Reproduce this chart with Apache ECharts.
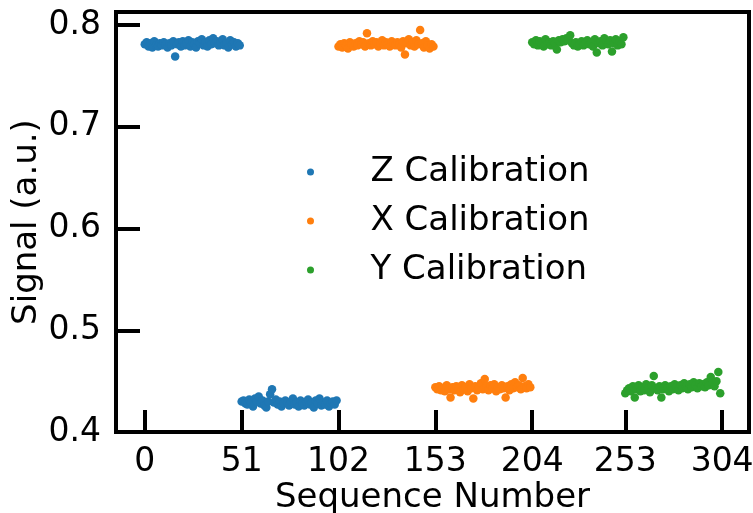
<!DOCTYPE html>
<html>
<head>
<meta charset="utf-8">
<script src="https://cdn.jsdelivr.net/npm/echarts@6/dist/echarts.min.js"></script>
<style>
  html, body { margin: 0; padding: 0; background: #fff; }
  #chart { width: 753px; height: 513px; }
</style>
</head>
<body>
<div id="chart"></div>
<script>
// x tick labels
var xTicks = [0, 51, 102, 153, 204, 253, 304];
var yTicks = [0.4, 0.5, 0.6, 0.7, 0.8];

// start index of every block of measurements
var zHighStart = 0, zLowStart = 51;
var xHighStart = 102, xLowStart = 153;
var yHighStart = 204, yLowStart = 253;

var zHigh = [0.781,0.783,0.779,0.782,0.778,0.784,0.780,0.779,0.782,0.780,
  0.783,0.781,0.778,0.782,0.780,0.784,0.769,0.781,0.783,0.779,
  0.784,0.780,0.782,0.785,0.779,0.783,0.781,0.778,0.784,0.782,
  0.786,0.780,0.783,0.779,0.785,0.781,0.787,0.782,0.784,0.780,
  0.783,0.786,0.780,0.782,0.778,0.785,0.781,0.783,0.779,0.782,0.780];
var zLow = [0.430,0.431,0.428,0.427,0.432,0.429,0.425,0.433,0.430,0.435,
  0.428,0.431,0.426,0.424,0.430,0.437,0.442,0.429,0.432,0.427,
  0.430,0.425,0.428,0.431,0.429,0.426,0.430,0.433,0.427,0.429,
  0.425,0.431,0.428,0.426,0.430,0.432,0.427,0.429,0.424,0.431,
  0.428,0.433,0.426,0.429,0.427,0.431,0.425,0.428,0.430,0.427,0.431];
var xHigh = [0.779,0.781,0.778,0.782,0.780,0.777,0.783,0.781,0.779,0.782,
  0.780,0.784,0.781,0.783,0.779,0.792,0.782,0.780,0.784,0.781,
  0.783,0.779,0.782,0.785,0.780,0.783,0.781,0.779,0.784,0.782,
  0.780,0.783,0.781,0.778,0.784,0.771,0.782,0.786,0.780,0.783,
  0.779,0.785,0.781,0.795,0.782,0.778,0.784,0.780,0.777,0.781,0.779];
var xLow = [0.444,0.442,0.445,0.441,0.443,0.440,0.446,0.442,0.434,0.444,
  0.441,0.445,0.443,0.439,0.446,0.442,0.444,0.440,0.447,0.443,
  0.433,0.445,0.441,0.444,0.448,0.442,0.452,0.445,0.441,0.446,
  0.443,0.447,0.440,0.444,0.442,0.446,0.443,0.434,0.445,0.441,
  0.447,0.443,0.449,0.444,0.446,0.442,0.453,0.445,0.443,0.447,0.444];
var yHigh = [0.783,0.781,0.785,0.780,0.784,0.782,0.779,0.786,0.781,0.783,
  0.780,0.784,0.782,0.776,0.785,0.783,0.786,0.784,0.787,0.785,
  0.790,0.782,0.780,0.783,0.779,0.781,0.784,0.780,0.782,0.785,
  0.781,0.783,0.779,0.786,0.773,0.782,0.784,0.780,0.787,0.783,
  0.781,0.785,0.774,0.782,0.786,0.780,0.784,0.781,0.788];
var yLow = [0.438,0.441,0.443,0.440,0.445,0.434,0.442,0.446,0.440,0.444,
  0.441,0.447,0.443,0.439,0.446,0.455,0.443,0.441,0.445,0.434,
  0.442,0.446,0.443,0.440,0.445,0.442,0.447,0.444,0.441,0.446,
  0.443,0.448,0.445,0.442,0.447,0.444,0.449,0.446,0.443,0.448,
  0.445,0.447,0.444,0.449,0.446,0.454,0.448,0.445,0.450,0.459,0.438];

function pts(start, vals) {
  var out = [];
  for (var i = 0; i < vals.length; i++) out.push([start + i, vals[i]]);
  return out;
}

var font = 'DejaVu Sans';
var chart = echarts.init(document.getElementById('chart'));
chart.setOption({
  animation: false,
  backgroundColor: '#fff',
  grid: {
    left: 116, right: 4, top: 12, bottom: 81,
    outerBoundsMode: 'none', containLabel: false,
    show: true, borderColor: '#000', borderWidth: 4, backgroundColor: 'transparent'
  },
  legend: {
    orient: 'vertical',
    left: 302, top: 150,
    icon: 'circle',
    itemWidth: 110, itemHeight: 7,
    itemGap: 15,
    textStyle: { fontFamily: font, fontSize: 34, color: '#000', lineHeight: 34 },
    data: ['Z Calibration', 'X Calibration', 'Y Calibration']
  },
  xAxis: {
    type: 'value',
    min: -15.15, max: 318.15,
    name: 'Sequence Number',
    nameLocation: 'middle',
    nameGap: 49,
    nameMoveOverlap: false,
    nameTextStyle: { fontFamily: font, fontSize: 34, color: '#000' },
    axisLine: { show: false, onZero: false },
    splitLine: { show: false },
    axisTick: { inside: true, length: 22, customValues: xTicks, lineStyle: { color: '#000', width: 4 } },
    axisLabel: { customValues: xTicks, fontFamily: font, fontSize: 33, color: '#000', margin: 14 }
  },
  yAxis: {
    type: 'value',
    min: 0.4, max: 0.8128,
    name: 'Signal (a.u.)',
    nameLocation: 'middle',
    nameGap: 72,
    nameMoveOverlap: false,
    nameTextStyle: { fontFamily: font, fontSize: 34, color: '#000' },
    axisLine: { show: false, onZero: false },
    splitLine: { show: false },
    axisTick: { inside: true, length: 24, customValues: yTicks, lineStyle: { color: '#000', width: 4 } },
    axisLabel: {
      customValues: yTicks, fontFamily: font, fontSize: 33, color: '#000', margin: 15,
      formatter: function (v) { return v.toFixed(1); }
    }
  },
  series: [
    { name: 'Z Calibration', type: 'scatter', symbolSize: 8.5, itemStyle: { color: '#1f77b4', opacity: 1 },
      data: pts(zHighStart, zHigh).concat(pts(zLowStart, zLow)) },
    { name: 'X Calibration', type: 'scatter', symbolSize: 8.5, itemStyle: { color: '#ff7f0e', opacity: 1 },
      data: pts(xHighStart, xHigh).concat(pts(xLowStart, xLow)) },
    { name: 'Y Calibration', type: 'scatter', symbolSize: 8.5, itemStyle: { color: '#2ca02c', opacity: 1 },
      data: pts(yHighStart, yHigh).concat(pts(yLowStart, yLow)) }
  ]
});
</script>
</body>
</html>
